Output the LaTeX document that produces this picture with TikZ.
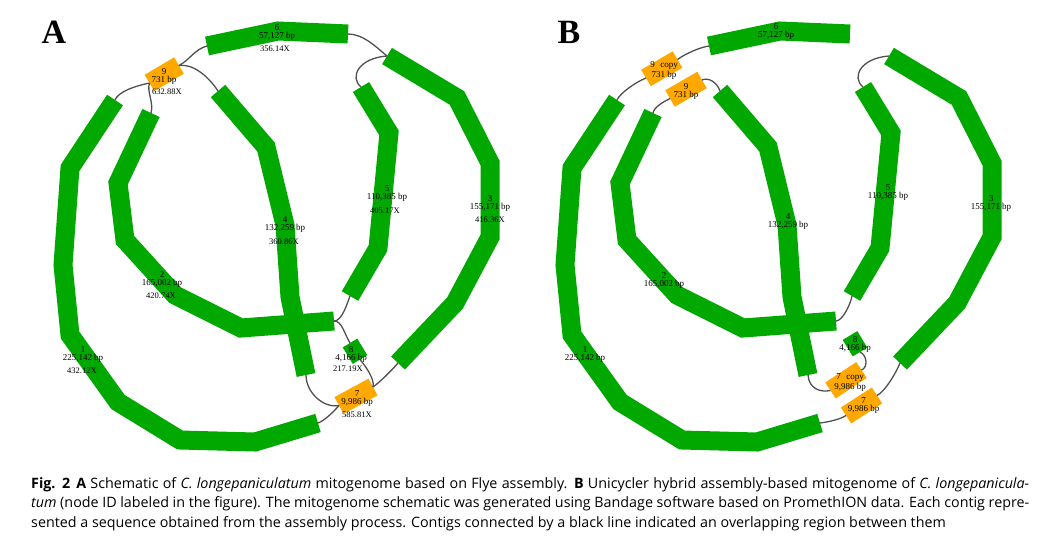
\documentclass[tikz,border=0pt]{standalone}
\usepackage{fontspec}
\setmainfont{Liberation Serif}
\setsansfont{Open Sans}
\usepackage{tikz}

\definecolor{contiggreen}{RGB}{0,168,0}
\definecolor{repeatorange}{RGB}{255,168,0}
\definecolor{linkgray}{RGB}{80,80,80}

% the six long contigs sit at the same place in both panels
\newcommand{\mitocontigs}[1]{%
  \coordinate (#1c1s) at (115,100);   \coordinate (#1c1e) at (318,423);
  \coordinate (#1c2s) at (151,113);   \coordinate (#1c2e) at (334,321);
  \coordinate (#1c3s) at (387,56);    \coordinate (#1c3e) at (398,363);
  \coordinate (#1c4s) at (218,91);    \coordinate (#1c4e) at (306,375);
  \coordinate (#1c5s) at (361,87);    \coordinate (#1c5e) at (350,296);
  \coordinate (#1c6s) at (207,46);    \coordinate (#1c6e) at (348,34);
  \draw[contig] (#1c1s) -- (70,168) -- (63,265) -- (70,335) -- (118,402) -- (180,440) -- (255,442) -- (#1c1e);
  \draw[contig] (#1c2s) -- (118,183) -- (125,240) -- (175,295) -- (241,328) -- (#1c2e);
  \draw[contig] (#1c3s) -- (457,98) -- (490,163) -- (490,237) -- (455,303) -- (#1c3e);
  \draw[contig] (#1c4s) -- (266,147) -- (285,225) -- (290,297) -- (#1c4e);
  \draw[contig] (#1c5s) -- (389,133) -- (378,248) -- (#1c5e);
  \draw[contig] (#1c6s) -- (278,31) -- (#1c6e);
}

\begin{document}
\begin{tikzpicture}[x=1pt, y=-1pt,
  contig/.style={draw=contiggreen, line width=19, line join=miter},
  repeatnode/.style={draw=repeatorange, line width=19},
  link/.style={draw=linkgray, line width=1.3},
  lab/.style={font=\fontsize{9}{8}\selectfont, align=center, inner sep=0},
  cov/.style={font=\fontsize{8.5}{8}\selectfont, inner sep=0},
  panel/.style={font=\bfseries\fontsize{34}{34}\selectfont, inner sep=0},
  capline/.style={font=\sffamily\fontsize{14.3}{19}\selectfont, anchor=base west, inner sep=0}
]
\path[fill=white] (0,0) rectangle (1045,542);
\useasboundingbox (0,0) rectangle (1045,542);

% panel A: Flye
\node[panel] (pA) at (54,32) {A};
\mitocontigs{A}
\coordinate (A9s) at (149.5,83);  \coordinate (A9e) at (179,65.5);
\coordinate (A8s) at (350,343);   \coordinate (A8e) at (360,359.5);
\coordinate (A7s) at (339,405.5); \coordinate (A7e) at (373,387);
\draw[repeatnode] (A9s) -- (A9e);
\draw[contig, line width=17] (A8s) -- (A8e);
\draw[repeatnode] (A7s) -- (A7e);

\draw[link] (A9e) .. controls +(10,-5) and +(-12,3) .. (Ac6s);
\draw[link] (A9e) .. controls +(14,-2) and +(-10,-15) .. (Ac4s);
\draw[link] (A9s) .. controls +(-15,3) and +(3,-8) .. (Ac1s);
\draw[link] (A9s) .. controls +(-3,8) and +(3,-10) .. (Ac2s);
\draw[link] (Ac6e) .. controls +(15,0) and +(-12,-10) .. (Ac3s);
\draw[link] (Ac3s) .. controls +(-28,2) and +(-12,-10) .. (Ac5s);
\draw[link] (Ac2e) .. controls +(8,0) and +(-3,8) .. (Ac5e);
\draw[link] (Ac2e) .. controls +(8,0) and +(-6,-10) .. (A8s);
\draw[link] (A8e) .. controls +(5,6) and +(2,-8) .. (A7e);
\draw[link] (A7e) .. controls +(6,-4) and +(-5,6) .. (Ac3e);
\draw[link] (Ac4e) .. controls +(0,18) and +(-15,3) .. (A7s);
\draw[link] (A7s) .. controls +(-5,6) and +(6,-2) .. (Ac1e);

\node[lab] (Al1) at (83,354) {1\\225,142 bp};
\node[cov] (Av1) at (82,371) {432.12X};
\node[lab] (Al2) at (162,279.5) {2\\165,002 bp};
\node[cov] (Av2) at (161,296) {420.74X};
\node[lab] (Al3) at (490,203.5) {3\\155,171 bp};
\node[cov] (Av3) at (490,220) {416.36X};
\node[lab] (Al4) at (285,224) {4\\132,259 bp};
\node[cov] (Av4) at (284,242) {360.86X};
\node[lab] (Al5) at (387,193.5) {5\\110,385 bp};
\node[cov] (Av5) at (385,211) {405.17X};
\node[lab] (Al6) at (277,32.5) {6\\57,127 bp};
\node[cov] (Av6) at (275,49) {356.14X};
\node[lab] (Al9) at (164,76) {9\\731 bp};
\node[cov] (Av9) at (167,92) {632.88X};
\node[lab] (Al8) at (351,354) {8\\4,166 bp};
\node[cov] (Av8) at (348,369) {217.19X};
\node[lab] (Al7) at (357,398.5) {7\\9,986 bp};
\node[cov] (Av7) at (357,415) {585.81X};

% panel B: Unicycler
\node[panel] (pB) at (569,32) {B};
\begin{scope}[shift={(502,0)}]
\mitocontigs{B}
\coordinate (B9cs) at (144,78);    \coordinate (B9ce) at (175.5,59.5);
\coordinate (B9s) at (168,98.5);   \coordinate (B9e) at (200,80);
\coordinate (B8s) at (348,335.5);  \coordinate (B8e) at (358,352);
\coordinate (B7cs) at (328.5,390.5); \coordinate (B7ce) at (359.5,370);
\coordinate (B7s) at (344,415.5);  \coordinate (B7e) at (375,395.5);
\draw[repeatnode] (B9cs) -- (B9ce);
\draw[repeatnode] (B9s) -- (B9e);
\draw[contig, line width=17] (B8s) -- (B8e);
\draw[repeatnode] (B7cs) -- (B7ce);
\draw[repeatnode] (B7s) -- (B7e);

\draw[link] (B9ce) .. controls +(8,-6) and +(-8,1) .. (Bc6s);
\draw[link] (B9cs) .. controls +(-10,4) and +(3,-7) .. (Bc1s);
\draw[link] (B9e) .. controls +(6,-3) and +(-3,-9) .. (Bc4s);
\draw[link] (B9s) .. controls +(-6,3) and +(1,-6) .. (Bc2s);
\draw[link] (Bc3s) .. controls +(-28,2) and +(-12,-10) .. (Bc5s);
\draw[link] (Bc5e) .. controls +(-2,10) and +(6,0) .. (Bc2e);
\draw[link] (B8e) .. controls +(8,4) and +(6,-2) .. (B7ce);
\draw[link] (Bc4e) .. controls +(1,14) and +(-10,2) .. (B7cs);
\draw[link] (B7e) .. controls +(8,-4) and +(-4,10) .. (Bc3e);
\draw[link] (B7s) .. controls +(-6,4) and +(8,-1) .. (Bc1e);

\node[lab] (Bl1) at (83,354) {1\\225,142 bp};
\node[lab] (Bl2) at (162,280) {2\\165,002 bp};
\node[lab] (Bl3) at (489,203.5) {3\\155,171 bp};
\node[lab] (Bl4) at (286,221) {4\\132,259 bp};
\node[lab] (Bl5) at (386,193) {5\\110,385 bp};
\node[lab] (Bl6) at (274,31) {6\\57,127 bp};
\node[lab] (Bl9c) at (162,70.5) {9\hspace{5.5pt}copy\\731 bp};
\node[lab] (Bl9) at (184,91.5) {9\\731 bp};
\node[lab] (Bl8) at (353,344.5) {8\\4,166 bp};
\node[lab] (Bl7c) at (348,382.5) {7\hspace{5.5pt}copy\\9,986 bp};
\node[lab] (Bl7) at (361.5,405.5) {7\\9,986 bp};
\end{scope}

% caption
\node[capline] (cap1) at (31,488) {\makebox[998pt][s]{\textbf{Fig. 2}\hspace{6pt}\textbf{A} Schematic of \textit{C. longepaniculatum} mitogenome based on Flye assembly. \textbf{B} Unicycler hybrid assembly-based mitogenome of \textit{C. longepanicula-}}};
\node[capline] (cap2) at (31,507.5) {\makebox[998pt][s]{\textit{tum} (node ID labeled in the figure). The mitogenome schematic was generated using Bandage software based on PromethION data. Each contig repre-}};
\node[capline] (cap3) at (31,527) {sented a sequence obtained from the assembly process. Contigs connected by a black line indicated an overlapping region between them};
\end{tikzpicture}
\end{document}
